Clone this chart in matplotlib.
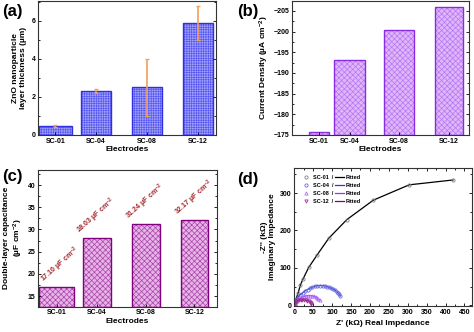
import numpy as np
import matplotlib.pyplot as plt
from matplotlib.ticker import MultipleLocator

plt.rcParams['font.family'] = ['Liberation Sans', 'DejaVu Sans']
plt.rcParams['font.weight'] = 'bold'
plt.rcParams['axes.labelweight'] = 'bold'
plt.rcParams['mathtext.fontset'] = 'custom'
plt.rcParams['mathtext.rm'] = 'Liberation Sans:bold'
plt.rcParams['mathtext.it'] = 'Liberation Sans:bold:italic'
plt.rcParams['mathtext.bf'] = 'Liberation Sans:bold'
plt.rcParams['hatch.linewidth'] = 0.5

electrodes = ['SC-01', 'SC-04', 'SC-08', 'SC-12']

# (a) layer thickness
thickness = [0.45, 2.3, 2.5, 5.9]
thick_lo = [0.4, 2.2, 1.0, 5.0]
thick_hi = [0.5, 2.4, 4.0, 6.8]

# (b) current density
current = [-175.8, -193.1, -200.3, -205.9]

# (c) double-layer capacitance
cdl = [17.10, 28.03, 31.24, 32.17]

# (d) Nyquist data
z1_re = [0, 2.6, 5, 10.5, 16, 23, 38, 60, 91, 139, 209, 304, 420]
z1_im = [0, 7, 18, 34, 54, 70, 101, 134, 179, 229, 281, 322, 335]
z4_re = [0, 1.8, 6.2, 15, 22, 28, 35, 41, 48, 54.6, 61, 68, 75, 81, 87, 92, 98, 103, 108, 112, 116, 119, 122]
z4_im = [0, 5.4, 16, 27.7, 33, 38, 42, 45.5, 48.5, 51, 52.3, 52.7, 52.5, 52, 50, 48, 45.5, 43, 40, 36.6, 33, 29.5, 25]
z8_re = [0, 1.8, 6, 10.6, 15, 19.4, 25, 30.8, 36, 41.4, 47, 52, 57, 60.7, 64, 67.8]
z8_im = [0, 7, 12, 16, 19, 21.4, 23.5, 25, 25.8, 25.9, 25.2, 24, 22, 19.6, 17, 14.3]
z12_re = [0, 1.8, 4.5, 7.9, 12, 16.7, 21, 25.5, 30, 34, 38, 41, 43, 44]
z12_im = [0, 5.4, 9, 11.6, 13.2, 14.3, 14.6, 14.3, 13.6, 12.5, 10.6, 8, 6, 4.5]

W, H = 474, 332
fig = plt.figure(figsize=(W / 100, H / 100), dpi=100)


def box(l, r, t, b):
    return [l / W, 1 - b / H, (r - l) / W, (b - t) / H]


def style(ax):
    ax.tick_params(which='both', direction='in', right=True, labelsize=5, width=0.6, pad=2)
    ax.tick_params(which='major', length=2.5)
    ax.tick_params(which='minor', length=1.5)
    ax.tick_params(axis='x', which='both', top=False)
    for s in ax.spines.values():
        s.set_linewidth(0.8)
        s.set_color('#333333')
    for lab in ax.get_xticklabels() + ax.get_yticklabels():
        lab.set_fontweight('bold')


def hbars(ax, x, vals, w, face, hcol, edge, hatch, bottom=0):
    ax.bar(x, vals, w, bottom=bottom, color=face, edgecolor=hcol, hatch=hatch, linewidth=0)
    ax.bar(x, vals, w, bottom=bottom, fill=False, edgecolor=edge, linewidth=1.0)


# ---- (a)
ax = fig.add_axes(box(38, 216, 1, 135))
xa = [0.2, 1, 2, 3]
hbars(ax, xa, thickness, [0.65, 0.6, 0.6, 0.6], '#a4a4ff', '#5a5af0', '#3030e0', '+++++++')
err = [np.array(thickness) - np.array(thick_lo), np.array(thick_hi) - np.array(thickness)]
ax.errorbar(xa, thickness, yerr=err, fmt='none', ecolor='#f2a05a', elinewidth=1.2, capsize=1.2, capthick=1.0)
ax.set_xlim(-0.14, 3.35)
ax.set_ylim(0, 7.05)
ax.set_xticks(xa)
ax.set_xticklabels(electrodes)
ax.yaxis.set_major_locator(MultipleLocator(2))
ax.yaxis.set_minor_locator(MultipleLocator(1))
ax.set_xlabel('Electrodes', fontsize=6, labelpad=1)
ax.set_ylabel('ZnO nanoparticle\nlayer thickness (µm)', fontsize=6, labelpad=3)
style(ax)

# ---- (b)
ax = fig.add_axes(box(292, 469, 1, 135))
xb = [0.38, 1, 1.98, 2.99]
vals = np.array(current) + 175
hbars(ax, xb, vals, [0.4, 0.62, 0.6, 0.56], '#e2b4fa', '#b27af2', '#8a2be2', 'xxxxxx', bottom=-175)
ax.set_xlim(-0.15, 3.39)
ax.set_ylim(-175, -207.4)
ax.set_xticks(xb)
ax.set_xticklabels(electrodes)
ax.yaxis.set_major_locator(MultipleLocator(5))
ax.yaxis.set_minor_locator(MultipleLocator(2.5))
ax.set_xlabel('Electrodes', fontsize=6, labelpad=1)
ax.set_ylabel('Current Density (µA cm$^{-2}$)', fontsize=6, labelpad=2)
style(ax)

# ---- (c)
ax = fig.add_axes(box(38, 217, 169.5, 306.7))
xc = [0.18, 1, 2, 2.99]
wc = [0.7, 0.57, 0.57, 0.55]
hbars(ax, xc, np.array(cdl) - 12.6, wc, '#e8b4e8', '#a845a8', '#800080', 'xxxxxx', bottom=12.6)
for i, (xi, v) in enumerate(zip(xc, cdl)):
    dx = 0.08 if i == 0 else 0.0
    ax.text(xi + dx, v + 5.0, '%.2f µF cm$^{-2}$' % v, rotation=42, rotation_mode='anchor',
            ha='center', va='center', fontsize=5.1, color='#a3242b', fontweight='bold')
ax.set_xlim(-0.2, 3.45)
ax.set_ylim(12.6, 43.5)
ax.set_xticks(xc)
ax.set_xticklabels(electrodes)
ax.yaxis.set_major_locator(MultipleLocator(5))
ax.yaxis.set_minor_locator(MultipleLocator(2.5))
ax.set_xlabel('Electrodes', fontsize=6, labelpad=1)
ax.set_ylabel('Double-layer capacitance\n(µF cm$^{-2}$)', fontsize=6, labelpad=2)
style(ax)

# ---- (d)
ax = fig.add_axes(box(294.3, 472, 168, 306))
series = [
    (z1_re, z1_im, 'o', '#808080', 'k'),
    (z4_re, z4_im, 'o', '#6a6ae0', '#3535d5'),
    (z8_re, z8_im, '^', '#b070f0', '#9a30f5'),
    (z12_re, z12_im, 'v', '#a030a0', '#800080'),
]
mk_handles = []
ln_handles = []
for (xr, yi, m, mc, lc), name in zip(series, electrodes):
    ln, = ax.plot(xr, yi, '-', color=lc, lw=0.9)
    mk, = ax.plot(xr, yi, m, ls='none', ms=2.3, mfc='none', mec=mc, mew=0.6)
    mk_handles.append(mk)
    ln_handles.append(ln)
ax.legend(mk_handles + ln_handles, [n + '  /' for n in electrodes] + ['Fitted'] * 4,
          ncol=2, loc='upper left', frameon=False, handlelength=1.6,
          columnspacing=0.3, labelspacing=0.5, handletextpad=0.4, borderaxespad=0.9,
          prop={'weight': 'bold', 'size': 4})
ax.set_xlim(0, 470)
ax.set_ylim(-2, 367)
ax.xaxis.set_major_locator(MultipleLocator(50))
ax.xaxis.set_minor_locator(MultipleLocator(25))
ax.yaxis.set_major_locator(MultipleLocator(100))
ax.yaxis.set_minor_locator(MultipleLocator(50))
ax.set_xlabel("Z' (kΩ) Real Impedance", fontsize=6, labelpad=3)
ax.set_ylabel("-Z'' (kΩ)\nImaginary Impedance", fontsize=6, labelpad=3)
style(ax)
ax.tick_params(axis='x', which='both', top=True)

for txt, px, py in [('(a)', 2, 4), ('(b)', 237, 4), ('(c)', 2, 169), ('(d)', 237, 172)]:
    fig.text(px / W, 1 - py / H, txt, fontsize=12, fontweight='bold', va='top', ha='left')

fig.savefig('out.png', dpi=100)
